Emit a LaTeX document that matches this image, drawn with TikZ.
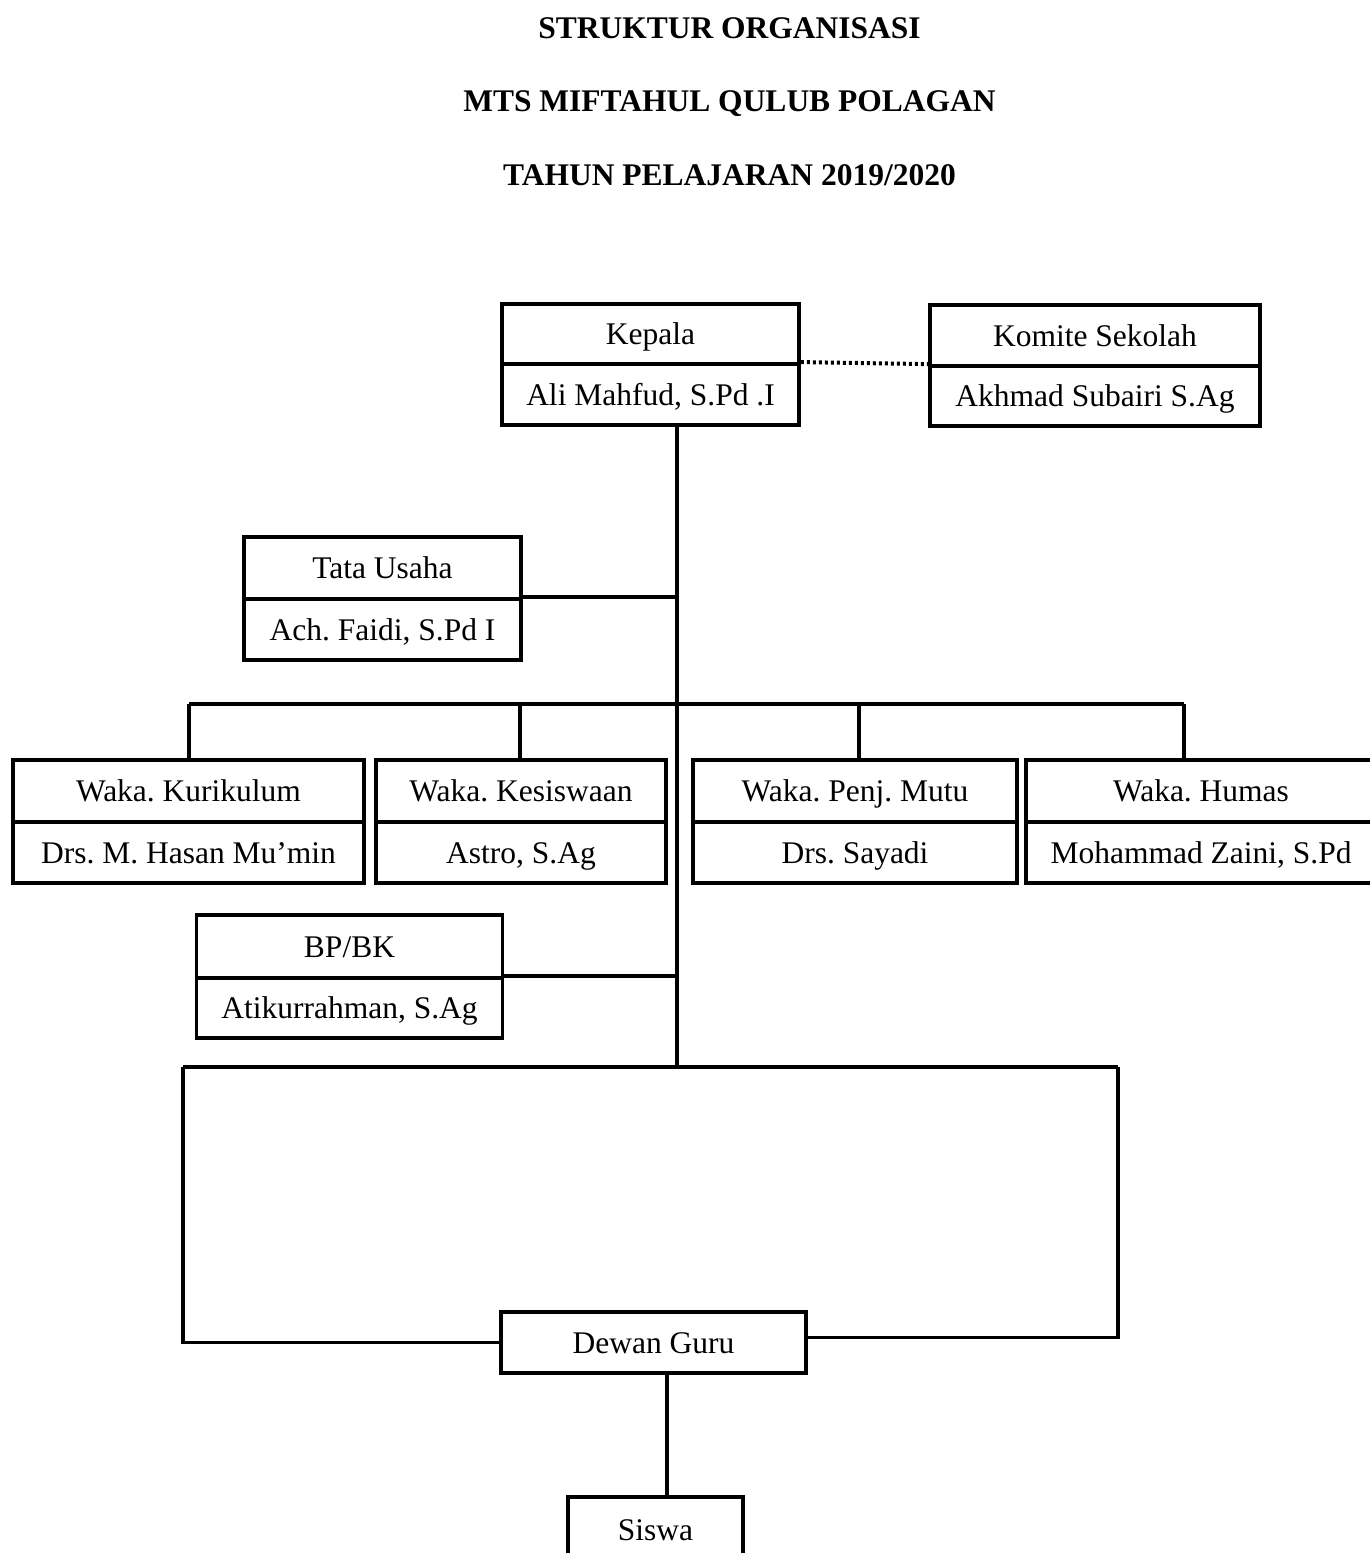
\documentclass[tikz,border=0pt]{standalone}
\usepackage{fontspec}
\setmainfont{Liberation Serif}
\frenchspacing
\begin{document}
\begin{tikzpicture}[x=1pt,y=-1pt,
  cell/.style={draw, line width=3.8pt, inner sep=0pt, anchor=center,
    font=\fontsize{31.5}{38}\selectfont, text height=21pt, text depth=0pt},
  ttl/.style={inner sep=0pt, font=\bfseries\fontsize{31.5}{38}\selectfont,
    text height=21pt, text depth=0pt},
  link/.style={line width=3.8pt},
  dots/.style={line width=4pt, dash pattern=on 3pt off 3pt}]
\path[use as bounding box] (0,0) rectangle (1370,1553);
\clip (0,0) rectangle (1370,1553);

% titles
\node[ttl] (t1) at (729.5,28) {STRUKTUR ORGANISASI};
\node[ttl] (t2) at (729.5,101) {MTS MIFTAHUL QULUB POLAGAN};
\node[ttl] (t3) at (729.5,175) {TAHUN PELAJARAN 2019/2020};

% Kepala
\node[cell, minimum width=297pt, minimum height=60pt] (kepT) at (650.5,334) {Kepala};
\node[cell, minimum width=297pt, minimum height=61pt] (kepB) at (650.5,394.5) {Ali Mahfud, S.Pd .I};
% Komite
\node[cell, minimum width=330pt, minimum height=61pt] (komT) at (1095,335.5) {Komite Sekolah};
\node[cell, minimum width=330pt, minimum height=60pt] (komB) at (1095,396) {Akhmad Subairi S.Ag};
% Tata Usaha
\node[cell, minimum width=277pt, minimum height=62pt] (tuT) at (382.5,568) {Tata Usaha};
\node[cell, minimum width=277pt, minimum height=61pt] (tuB) at (382.5,629.5) {Ach. Faidi, S.Pd I};
% Waka
\node[cell, minimum width=351pt, minimum height=62pt] (kurT) at (188.5,791) {Waka. Kurikulum};
\node[cell, minimum width=351pt, minimum height=61pt] (kurB) at (188.5,852.5) {Drs. M. Hasan Mu’min};
\node[cell, minimum width=290pt, minimum height=62pt] (kesT) at (521,791) {Waka. Kesiswaan};
\node[cell, minimum width=290pt, minimum height=61pt] (kesB) at (521,852.5) {Astro, S.Ag};
\node[cell, minimum width=324pt, minimum height=62pt] (mutT) at (855,791) {Waka. Penj. Mutu};
\node[cell, minimum width=324pt, minimum height=61pt] (mutB) at (855,852.5) {Drs. Sayadi};
\node[cell, minimum width=350pt, minimum height=62pt] (humT) at (1201,791) {Waka. Humas};
\node[cell, minimum width=350pt, minimum height=61pt] (humB) at (1201,852.5) {Mohammad Zaini, S.Pd};
% BP/BK
\node[cell, minimum width=306pt, minimum height=63pt] (bpT) at (349.5,946.5) {BP/BK};
\node[cell, minimum width=306pt, minimum height=60pt] (bpB) at (349.5,1008) {Atikurrahman, S.Ag};
% Dewan Guru, Siswa
\node[cell, minimum width=305pt, minimum height=61pt] (dg) at (653.5,1342.5) {Dewan Guru};
\node[cell, minimum width=175pt, minimum height=120pt, text height=0pt] (sw) at (655.5,1557) {};
\node[cell, draw=none] (swl) at (655.5,1530) {Siswa};

% helper coordinates
\coordinate (tx) at (677,0);
\coordinate (bus1) at (189,704);
\coordinate (bus2) at (520,704);
\coordinate (bus3) at (859,704);
\coordinate (bus4) at (1184,704);
\coordinate (lowL) at (183,1067);
\coordinate (lowR) at (1118,1067);
\coordinate (sx) at (667,0);
\coordinate (dgE) at ([yshift=5pt]dg.east);

% connectors
\draw[dots] (kepB.north east) -- (komB.north west);
\draw[link] (kepB.south -| tx) -- (lowL -| tx);
\draw[link] (tuB.north east) -- (tuB.north east -| tx);
\draw[link] (bpB.north east) -- (bpB.north east -| tx);
\draw[link] (bus1) -- (bus4);
\draw[link] (bus1) -- (bus1 |- kurT.north);
\draw[link] (bus2) -- (bus2 |- kesT.north);
\draw[link] (bus3) -- (bus3 |- mutT.north);
\draw[link] (bus4) -- (bus4 |- humT.north);
\draw[link] (lowL) -- (lowR);
\draw[link] (lowL) -- (lowL |- dg.west) -- (dg.west);
\draw[link] (lowR) -- (lowR |- dgE) -- (dgE);
\draw[link] (dg.south -| sx) -- (sw.north -| sx);
\end{tikzpicture}
\end{document}
